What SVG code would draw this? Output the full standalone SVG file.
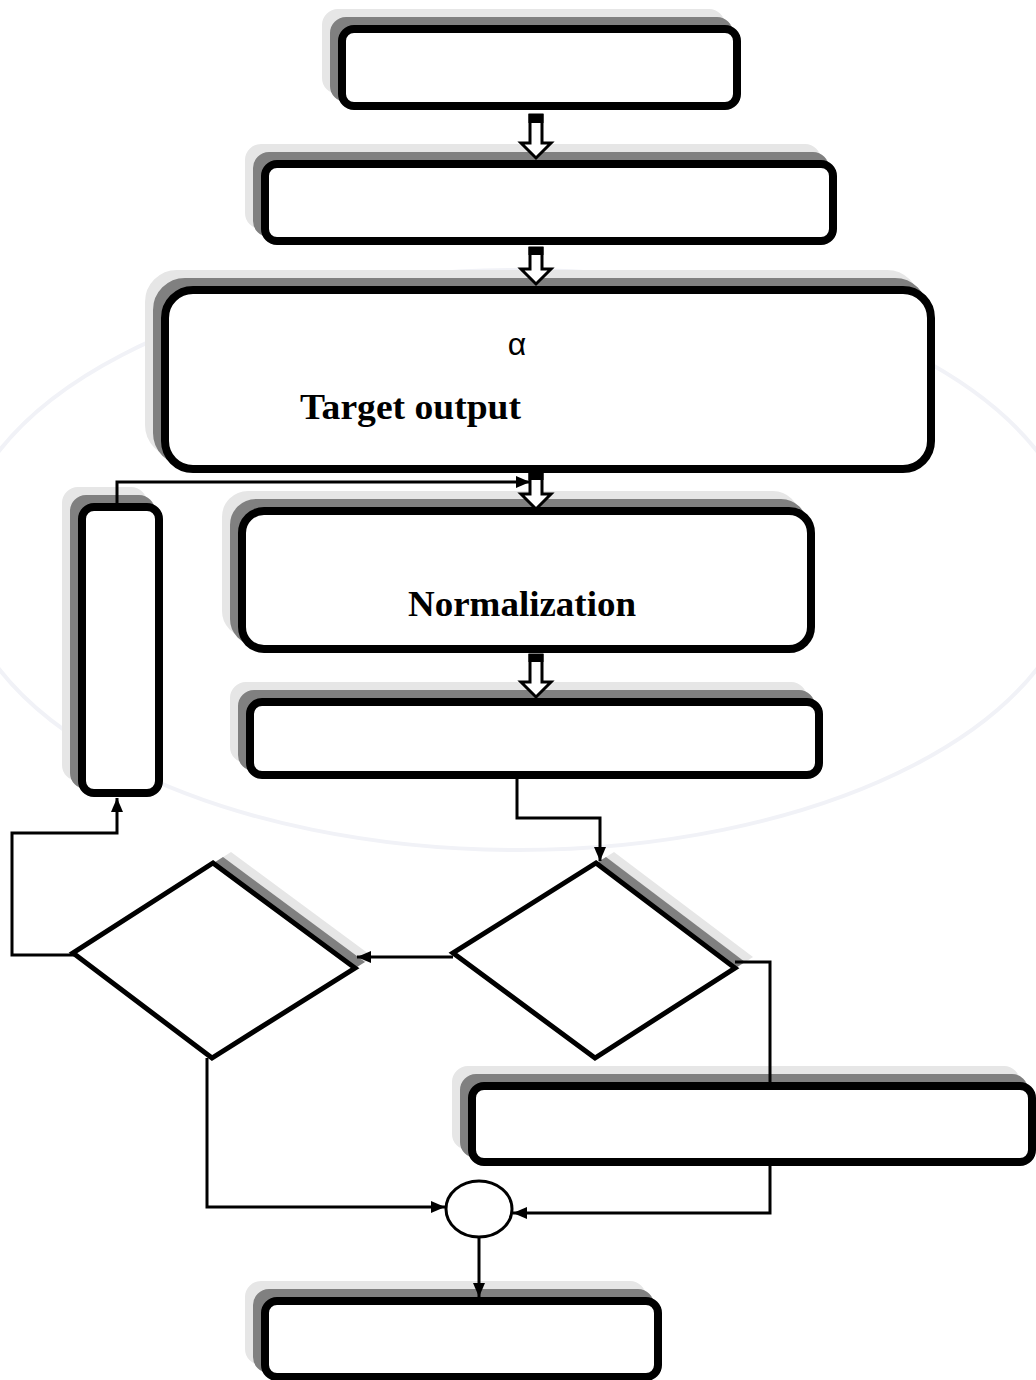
<svg xmlns="http://www.w3.org/2000/svg" width="1036" height="1380" viewBox="0 0 1036 1380">
<style>
.box{fill:#fff;stroke:#000;stroke-width:8}
.sh1{fill:#808080;stroke:#808080;stroke-width:8}
.sh2{fill:#e6e6e6;stroke:#e6e6e6;stroke-width:8}
.dia{fill:#fff;stroke:#000;stroke-width:5;stroke-linejoin:miter}
.dsh1{fill:#808080}
.dsh2{fill:#e6e6e6}
.con{fill:none;stroke:#000;stroke-width:3}
.blk{fill:#fff;stroke:#000;stroke-width:3;stroke-linejoin:miter}
.lbl{font-family:"Liberation Serif","Times New Roman",serif;font-weight:bold;font-size:36px;fill:#000}
.sym{font-family:"Liberation Sans",Arial,sans-serif;font-size:32px;fill:#000}
.wm{fill:none;stroke:#f1f2f7;stroke-width:4}
</style>
<defs>
<marker id="ah" markerWidth="15" markerHeight="13" refX="14" refY="6" orient="auto" markerUnits="userSpaceOnUse">
<path d="M0,0 L14,6 L0,12 z" fill="#000"/>
</marker>
</defs>
<rect width="1036" height="1380" fill="#fff"/>
<g id="watermark">
<ellipse class="wm" cx="518" cy="560" rx="560" ry="290"/>
</g>

<g id="n1">
<rect class="sh2" x="326" y="13" width="395" height="77" rx="12"/>
<rect class="sh1" x="334" y="21" width="395" height="77" rx="12"/>
<rect class="box" x="342" y="29" width="395" height="77" rx="12"/>
</g>
<g id="n2">
<rect class="sh2" x="249" y="148" width="568" height="77" rx="12"/>
<rect class="sh1" x="257" y="156" width="568" height="77" rx="12"/>
<rect class="box" x="265" y="164" width="568" height="77" rx="12"/>
</g>
<g id="n3">
<rect class="sh2" x="149" y="274" width="766" height="179" rx="28"/>
<rect class="sh1" x="157" y="282" width="766" height="179" rx="28"/>
<rect class="box" x="165" y="290" width="766" height="179" rx="28"/>
<text class="sym" x="517" y="355" text-anchor="middle">α</text>
<text class="lbl" x="300" y="419" textLength="221" lengthAdjust="spacingAndGlyphs">Target output</text>
</g>
<g id="n4">
<rect class="sh2" x="226" y="495" width="569" height="138" rx="22"/>
<rect class="sh1" x="234" y="503" width="569" height="138" rx="22"/>
<rect class="box" x="242" y="511" width="569" height="138" rx="22"/>
<text class="lbl" x="408" y="616" textLength="228" lengthAdjust="spacingAndGlyphs">Normalization</text>
</g>
<g id="n5">
<rect class="sh2" x="234" y="686" width="569" height="73" rx="12"/>
<rect class="sh1" x="242" y="694" width="569" height="73" rx="12"/>
<rect class="box" x="250" y="702" width="569" height="73" rx="12"/>
</g>
<g id="n6">
<rect class="sh2" x="66" y="491" width="77" height="286" rx="12"/>
<rect class="sh1" x="74" y="499" width="77" height="286" rx="12"/>
<rect class="box" x="82" y="507" width="77" height="286" rx="12"/>
</g>
<g id="n7">
<polygon class="dsh2" points="231,852 373,957 230,1047 91,942"/>
<polygon class="dsh1" points="223,857 365,962 222,1052 83,947"/>
<polygon class="dia" points="213,863 355,968 212,1058 73,953"/>
</g>
<g id="n8">
<polygon class="dsh2" points="614,852 753,957 613,1047 471,942"/>
<polygon class="dsh1" points="606,857 745,962 605,1052 463,947"/>
<polygon class="dia" points="596,863 735,968 595,1058 453,953"/>
</g>
<g id="n9">
<rect class="sh2" x="456" y="1070" width="560" height="76" rx="12"/>
<rect class="sh1" x="464" y="1078" width="560" height="76" rx="12"/>
<rect class="box" x="472" y="1086" width="560" height="76" rx="12"/>
</g>
<g id="n10">
<ellipse cx="479" cy="1209" rx="33" ry="28" fill="#fff" stroke="#000" stroke-width="3"/>
</g>
<g id="n11">
<rect class="sh2" x="249" y="1285" width="393" height="76" rx="12"/>
<rect class="sh1" x="257" y="1293" width="393" height="76" rx="12"/>
<rect class="box" x="265" y="1301" width="393" height="76" rx="12"/>
</g>

<g id="connectors">
<g id="blockarrows">
<path class="blk" d="M530,115 H542 V143 H551 L536,158 L521,143 H530 Z"/>
<rect x="528.5" y="114" width="15" height="9" fill="#000"/>
<path class="blk" d="M530,248 H542 V269 H551 L536,284 L521,269 H530 Z"/>
<rect x="528.5" y="247" width="15" height="8" fill="#000"/>
<path class="blk" d="M530,473 H542 V494 H551 L536,509 L521,494 H530 Z"/>
<rect x="528.5" y="472" width="15" height="8" fill="#000"/>
<path class="blk" d="M530,655 H542 V682 H551 L536,697 L521,682 H530 Z"/>
<rect x="528.5" y="654" width="15" height="8" fill="#000"/>
</g>
<path class="con" d="M117,503 V482 H530" marker-end="url(#ah)"/>
<path class="con" d="M517,779 V818 H600 V861" marker-end="url(#ah)"/>
<path class="con" d="M453,957 H357" marker-end="url(#ah)"/>
<path class="con" d="M75,955 H12 V833 H117 V798" marker-end="url(#ah)"/>
<path class="con" d="M207,1058 V1207 H445" marker-end="url(#ah)"/>
<path class="con" d="M735,962 H770 V1082"/>
<path class="con" d="M770,1166 V1213 H513" marker-end="url(#ah)"/>
<path class="con" d="M479,1237 V1297" marker-end="url(#ah)"/>
</g>
</svg>
